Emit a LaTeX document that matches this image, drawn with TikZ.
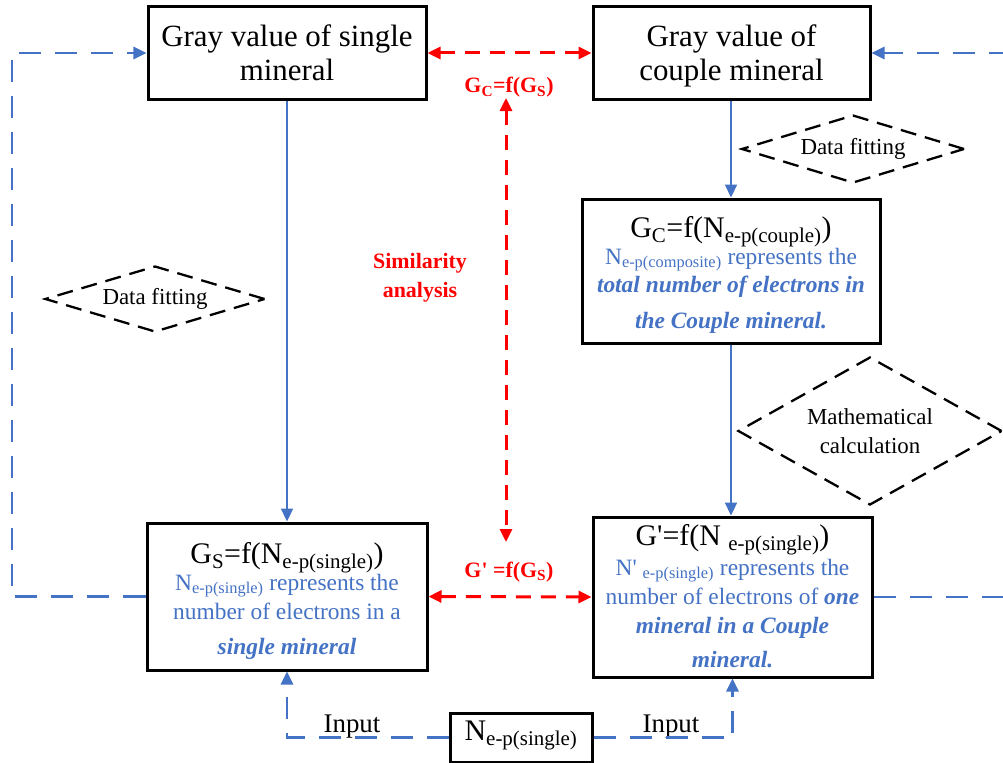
\documentclass[tikz,border=0pt]{standalone}
\usepackage{fontspec}
\setmainfont{Liberation Serif}
\usetikzlibrary{arrows.meta,shapes.geometric}
\definecolor{myblue}{HTML}{4472C4}
\definecolor{myred}{HTML}{FF0000}
\newcommand{\fsz}[1]{\fontsize{#1}{#1}\selectfont}
\newcommand{\bfit}[1]{\textbf{\textit{#1}}}
\begin{document}
\begin{tikzpicture}[x=1bp,y=-1bp,
  box/.style={draw=black, line width=3bp, inner sep=0pt, fill=white},
  ttl/.style={anchor=base, font=\fsz{31}, inner sep=0pt},
  frm/.style={anchor=base, font=\fsz{30}, inner sep=0pt},
  btxt/.style={anchor=base, font=\fsz{23.5}, text=myblue, inner sep=0pt},
  rtxt/.style={anchor=base, font=\fsz{22}\bfseries, text=myred, inner sep=0pt, align=center},
  dia/.style={draw=black, diamond, dash pattern=on 16bp off 9bp, line width=2.3bp, inner sep=0pt, font=\fontsize{23}{29}\selectfont, align=center},
  tip/.style={-{Triangle[length=13bp,width=12bp]}},
  tips/.style={{Triangle[length=13bp,width=12bp]}-{Triangle[length=13bp,width=12bp]}},
  blsolid/.style={draw=myblue, line width=2.2bp, tip},
  bldash/.style={draw=myblue, line width=2.7bp, dash pattern=on 22bp off 14bp},
  rddash/.style={draw=myred, line width=3bp, dash pattern=on 15bp off 10bp, tips}
]
\useasboundingbox (0,0) rectangle (1003,763);

% boxes
\node[box, minimum width=278bp, minimum height=92bp] (A) at (287,53) {};
\node[box, minimum width=277bp, minimum height=92bp] (B) at (731.5,53) {};
\node[box, minimum width=298bp, minimum height=144bp] (C) at (731,271) {};
\node[box, minimum width=280bp, minimum height=147bp] (D) at (287,596.5) {};
\node[box, minimum width=279bp, minimum height=160bp] (E) at (732.5,597) {};
\node[box, minimum width=142bp, minimum height=49bp] (F) at (521,737.5) {};

% box texts
\node[ttl] (A1) at (287,47) {Gray value of single};
\node[ttl] (A2) at (287,81) {mineral};
\node[ttl] (B1) at (731.5,47) {Gray value of};
\node[ttl] (B2) at (731.5,81) {couple mineral};

\node[frm] (C1) at (731,237) {G\textsubscript{C}=f(N\textsubscript{e-p(couple)})};
\node[btxt] (C2) at (731,264) {N\textsubscript{e-p(composite)} represents the};
\node[btxt] (C3) at (731,292) {\bfit{total number of electrons in}};
\node[btxt] (C4) at (731,328) {\bfit{the Couple mineral.}};

\node[frm] (D1) at (287,563) {G\textsubscript{S}=f(N\textsubscript{e-p(single)})};
\node[btxt] (D2) at (287,590) {N\textsubscript{e-p(single)} represents the};
\node[btxt] (D3) at (287,619) {number of electrons in a};
\node[btxt] (D4) at (287,654) {\bfit{single mineral}};

\node[frm] (E1) at (732.5,545) {G\textquotesingle=f(N\ \textsubscript{e-p(single)})};
\node[btxt] (E2) at (732.5,575) {N\textquotesingle\ \textsubscript{e-p(single)} represents the};
\node[btxt] (E3) at (732.5,604) {number of electrons of \bfit{one}};
\node[btxt] (E4) at (732.5,633) {\bfit{mineral in a Couple}};
\node[btxt] (E5) at (732.5,667) {\bfit{mineral.}};

\node[frm] (F1) at (521,740) {N\textsubscript{e-p(single)}};

% diamonds
\node[dia, shape aspect=3.33, minimum width=220bp, minimum height=66bp] (DF1) at (155,299) {Data fitting};
\node[dia, shape aspect=3.28, minimum width=223bp, minimum height=68bp] (DF2) at (853,149) {Data fitting};
\node[dia, shape aspect=1.78, minimum width=264bp, minimum height=148bp] (MC) at (870,431) {Mathematical\\calculation};

% red labels
\node[rtxt] (L1) at (509,93) {G\textsubscript{C}=f(G\textsubscript{S})};
\node[rtxt] (L2) at (509,577) {G\textquotesingle\ =f(G\textsubscript{S})};
\node[rtxt] (L3) at (420,268) {Similarity};
\node[rtxt] (L4) at (420,297) {analysis};

% input labels
\node[anchor=base, font=\fsz{27}, inner sep=0pt] (I1) at (352,732) {Input};
\node[anchor=base, font=\fsz{27}, inner sep=0pt] (I2) at (671,732) {Input};

% solid blue arrows
\draw[blsolid] (A.south) -- (D.north);
\draw[blsolid] (B.south -| C.north) -- (C.north);
\draw[blsolid] (C.south) -- (C.south |- E.north);

% dashed blue loops
\coordinate (xl) at (12,0);
\coordinate (xr) at (1012,0);
\draw[bldash, tip] (D.west) -- (D.west -| xl) |- (A.west);
\draw[bldash, tip] (E.east) -- (E.east -| xr) |- (B.east);
\draw[bldash, tip] (F.west) -| (D.south);
\draw[bldash, tip] (F.east) -| (E.south);

% red dashed arrows
\coordinate (rt) at (506,98);
\coordinate (rb) at (506,542);
\draw[rddash] (A.east) -- (B.west);
\draw[rddash] (D.east) -- (E.west);
\draw[rddash] (rt) -- (rb);
\end{tikzpicture}
\end{document}
